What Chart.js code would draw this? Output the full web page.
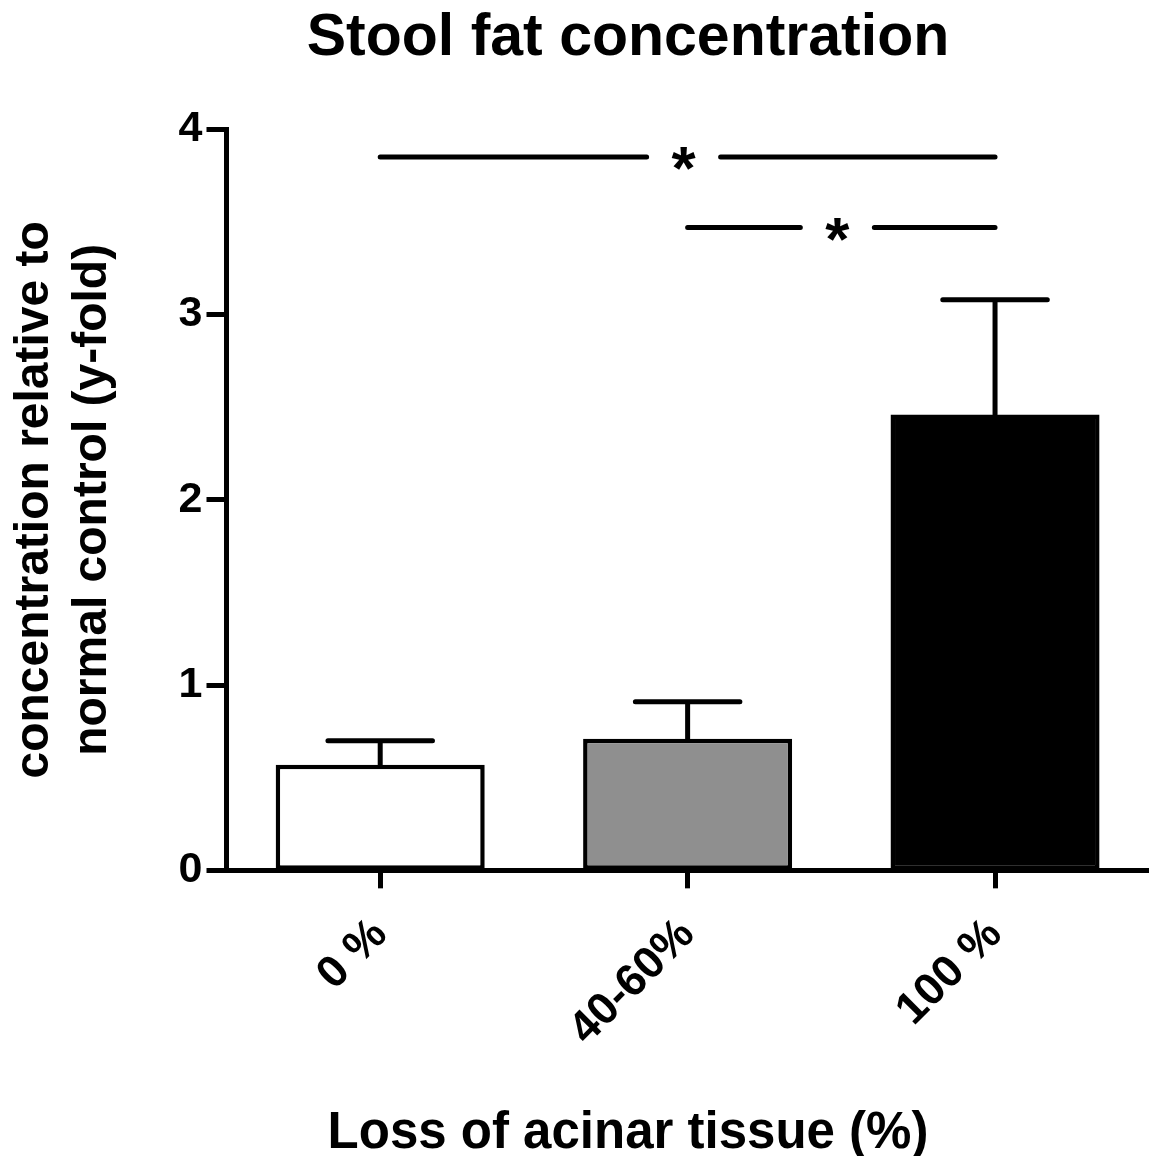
<!DOCTYPE html>
<html>
<head>
<meta charset="utf-8">
<title>Stool fat concentration</title>
<script src="https://cdn.jsdelivr.net/npm/chart.js@4/dist/chart.umd.min.js"></script>
<style>
  html, body { margin: 0; padding: 0; background: #ffffff; }
  #wrap { width: 1154px; height: 1156px; }
</style>
</head>
<body>
<div id="wrap"><canvas id="chart" width="1154" height="1156"></canvas></div>
<script>
// Groups by loss of acinar tissue
const categories = ['0 %', '40-60%', '100 %'];
// Mean stool fat concentration relative to normal control (fold)
const means = [0.57, 0.71, 2.46];
// Upper error (SEM)
const sem = [0.13, 0.20, 0.62];
// Bar fills per group
const fills = ['#ffffff', '#8f8f8f', '#000000'];
// Y axis ticks
const yTicks = [0, 1, 2, 3, 4];
// Significance brackets: group indices, height (fold) and marker
const bracketFrom = [0, 1];
const bracketTo = [2, 2];
const bracketLevel = [3.85, 3.47];
const bracketMark = ['*', '*'];

const FONT = "'Liberation Sans', Arial, Helvetica, sans-serif";
Chart.defaults.font.family = FONT;
Chart.defaults.color = '#000000';

// Page geometry: outer padding and where the plot frame sits
const PAD_LEFT = 107.25;
const PAD_RIGHT = 5.25;
const AXIS_X = 226.5;      // y axis line
const AXIS_BOTTOM = 871.2; // x axis line
const XTITLE_H = 42.5;     // band reserved for the x axis title

// Upward error bars with caps
const errorBars = {
  id: 'errorBars',
  afterDatasetsDraw(chart) {
    const ctx = chart.ctx;
    const meta = chart.getDatasetMeta(0);
    const y = chart.scales.y;
    ctx.save();
    ctx.strokeStyle = '#000000';
    ctx.lineWidth = 5;
    ctx.lineCap = 'round';
    meta.data.forEach((bar, i) => {
      const yTop = y.getPixelForValue(means[i] + sem[i]);
      const yBase = y.getPixelForValue(means[i]);
      const half = bar.width * 0.25;
      ctx.beginPath();
      ctx.moveTo(bar.x, yBase);
      ctx.lineTo(bar.x, yTop);
      ctx.moveTo(bar.x - half, yTop);
      ctx.lineTo(bar.x + half, yTop);
      ctx.stroke();
    });
    ctx.restore();
  }
};

// Significance lines with a centred marker
const brackets = {
  id: 'brackets',
  afterDatasetsDraw(chart) {
    const ctx = chart.ctx;
    const x = chart.scales.x;
    const y = chart.scales.y;
    const size = 62;
    ctx.save();
    ctx.strokeStyle = '#000000';
    ctx.fillStyle = '#000000';
    ctx.lineWidth = 5;
    ctx.lineCap = 'round';
    ctx.font = 'bold ' + size + 'px ' + FONT;
    ctx.textAlign = 'center';
    ctx.textBaseline = 'alphabetic';
    bracketLevel.forEach((lvl, k) => {
      const x1 = x.getPixelForValue(bracketFrom[k]);
      const x2 = x.getPixelForValue(bracketTo[k]);
      const yy = y.getPixelForValue(lvl);
      const mid = (x1 + x2) / 2 - 4;
      const gap = 37;
      ctx.beginPath();
      ctx.moveTo(x1, yy);
      ctx.lineTo(mid - gap, yy);
      ctx.moveTo(mid + gap, yy);
      ctx.lineTo(x2, yy);
      ctx.stroke();
      ctx.fillText(bracketMark[k], mid, yy + size * 0.55 - 2);
    });
    ctx.restore();
  }
};

new Chart(document.getElementById('chart'), {
  type: 'bar',
  data: {
    labels: categories,
    datasets: [{
      data: means,
      backgroundColor: fills,
      borderColor: '#000000',
      borderWidth: 4.5,
      borderSkipped: false,
      barPercentage: 0.68,
      categoryPercentage: 1.0
    }]
  },
  options: {
    responsive: false,
    devicePixelRatio: 1,
    animation: false,
    layout: { padding: { left: PAD_LEFT, right: PAD_RIGHT, top: 0, bottom: 0 } },
    plugins: {
      legend: { display: false },
      tooltip: { enabled: false },
      title: {
        display: true,
        text: 'Stool fat concentration',
        color: '#000000',
        font: { size: 59, weight: 'bold', lineHeight: 1.2 },
        padding: { top: 3, bottom: 55.5 }
      },
      // x axis caption, centred on the figure like the heading
      subtitle: {
        display: true,
        position: 'bottom',
        text: 'Loss of acinar tissue (%)',
        color: '#000000',
        font: { size: 51, weight: 'bold', lineHeight: 0.85 },
        padding: { top: 0, bottom: 0 }
      }
    },
    scales: {
      x: {
        offset: true,
        grid: {
          display: true,
          drawOnChartArea: false,
          drawTicks: true,
          tickLength: 18,
          tickWidth: 5,
          tickColor: '#000000',
          offset: false
        },
        border: { display: true, color: '#000000', width: 5 },
        ticks: {
          autoSkip: false,
          minRotation: 45,
          maxRotation: 45,
          padding: 20,
          color: '#000000',
          font: { size: 45, weight: 'bold' }
        },
        afterFit(scale) { scale.height = 1156 - XTITLE_H - AXIS_BOTTOM; }
      },
      y: {
        min: 0,
        max: 4,
        afterBuildTicks(scale) { scale.ticks = yTicks.map(v => ({ value: v })); },
        grid: {
          display: true,
          drawOnChartArea: false,
          drawTicks: true,
          tickLength: 20,
          tickWidth: 5,
          tickColor: '#000000'
        },
        border: { display: true, color: '#000000', width: 5 },
        ticks: {
          padding: 4,
          color: '#000000',
          font: { size: 43, weight: 'bold' }
        },
        title: {
          display: true,
          text: ['concentration relative to', 'normal control (y-fold)'],
          color: '#000000',
          font: { size: 48, weight: 'bold', lineHeight: 1.2 },
          padding: { top: 35 - PAD_LEFT - 28.8, bottom: 0 }
        },
        afterFit(scale) { scale.width = AXIS_X - PAD_LEFT; }
      }
    }
  },
  plugins: [errorBars, brackets]
});
</script>
</body>
</html>
